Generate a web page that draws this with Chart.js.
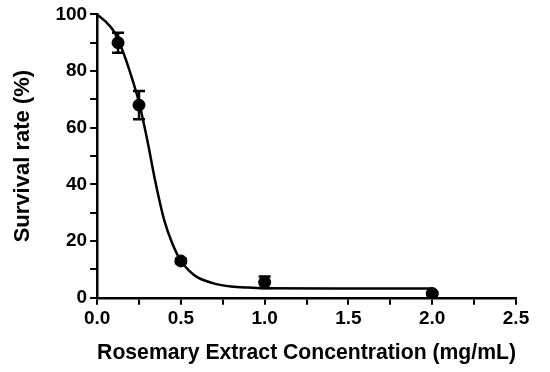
<!DOCTYPE html>
<html>
<head>
<meta charset="UTF-8">
<title>Survival rate vs rosemary extract</title>
<style>
	body { margin: 0; background: #fff; }
	.container { width: 550px; height: 372px; }
</style>
<script src="https://cdn.jsdelivr.net/npm/chart.js@4/dist/chart.umd.min.js"></script>
</head>
<body>
<div class="container">
	<canvas id="myChart"></canvas>
</div>
<script>
	// measured points (mean, sd)
	var doseX = [0.125, 0.25, 0.5, 1.0, 2.0];
	var survival = [90, 68, 13, 5.5, 1.5];
	var errSd = [3.5, 5, 0.8, 2, 0.5];

	// fitted curve
	var curveX = [0, 0.05, 0.1, 0.15, 0.2, 0.25, 0.3, 0.35, 0.4, 0.45, 0.5, 0.55, 0.6, 0.7, 0.8, 0.9, 1.0, 1.5, 2.0];
	var curveY = [100, 97.5, 94, 87.5, 79, 69, 55.5, 40.3, 27.5, 19, 13, 9.5, 7.2, 5, 4, 3.6, 3.4, 3.3, 3.3];

	var fontFam = '"Liberation Sans", Arial, sans-serif';

	var points = doseX.map(function(x, i) { return { x: x, y: survival[i] }; });
	var curve = curveX.map(function(x, i) { return { x: x, y: curveY[i] }; });

	// error bars with caps
	var errorBars = {
		id: 'errorBars',
		afterDatasetsDraw: function(chart) {
			var ctx = chart.ctx, xs = chart.scales.x, ys = chart.scales.y;
			ctx.save();
			ctx.strokeStyle = '#000';
			ctx.lineWidth = 2.5;
			doseX.forEach(function(x, i) {
				var px = xs.getPixelForValue(x);
				var top = ys.getPixelForValue(survival[i] + errSd[i]);
				var bot = ys.getPixelForValue(survival[i] - errSd[i]);
				ctx.beginPath();
				ctx.moveTo(px, top); ctx.lineTo(px, bot);
				ctx.moveTo(px - 6, top); ctx.lineTo(px + 6, top);
				ctx.moveTo(px - 6, bot); ctx.lineTo(px + 6, bot);
				ctx.stroke();
			});
			ctx.restore();
		}
	};

	var ctx = document.getElementById('myChart').getContext('2d');
	var myChart = new Chart(ctx, {
		type: 'scatter',
		data: {
			datasets: [{
				type: 'line',
				data: curve,
				borderColor: '#000',
				borderWidth: 2.5,
				pointRadius: 0,
				fill: false,
				cubicInterpolationMode: 'monotone'
			}, {
				data: points,
				backgroundColor: '#000',
				borderColor: '#000',
				pointRadius: 6,
				pointHoverRadius: 6
			}]
		},
		options: {
			responsive: true,
			maintainAspectRatio: false,
			animation: false,
			layout: { padding: { top: 13, right: 34, left: 6, bottom: 2 } },
			plugins: { legend: { display: false }, tooltip: { enabled: false } },
			scales: {
				x: {
					type: 'linear',
					min: 0, max: 2.5,
					border: { color: '#000', width: 2.5 },
					grid: { drawOnChartArea: false, color: '#000', lineWidth: 2, tickLength: 7 },
					ticks: {
						stepSize: 0.25,
						color: '#000',
						font: { family: fontFam, size: 19, weight: 'bold' },
						padding: 3,
						maxRotation: 0,
						callback: function(v) { return Math.abs(v * 2 - Math.round(v * 2)) < 1e-6 ? v.toFixed(1) : ''; }
					},
					title: {
						display: true,
						text: 'Rosemary Extract Concentration (mg/mL)',
						color: '#000',
						font: { family: fontFam, size: 22, weight: 'bold' },
						padding: { top: 6 }
					}
				},
				y: {
					min: 0, max: 100,
					border: { color: '#000', width: 2.5 },
					grid: { drawOnChartArea: false, color: '#000', lineWidth: 2, tickLength: 7 },
					ticks: {
						stepSize: 10,
						color: '#000',
						font: { family: fontFam, size: 19, weight: 'bold' },
						padding: 3,
						callback: function(v) { return v % 20 === 0 ? v : ''; }
					},
					title: {
						display: true,
						text: 'Survival rate (%)',
						color: '#000',
						font: { family: fontFam, size: 22, weight: 'bold' },
						padding: { bottom: 16 }
					}
				}
			}
		},
		plugins: [errorBars]
	});
</script>
</body>
</html>
